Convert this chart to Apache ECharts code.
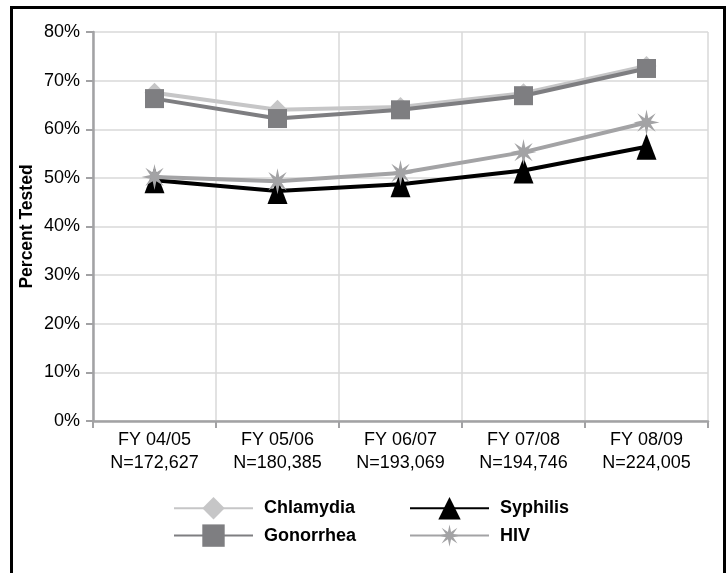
<!DOCTYPE html>
<html>
<head>
<meta charset="utf-8">
<script src="https://cdn.jsdelivr.net/npm/echarts@6/dist/echarts.min.js"></script>
<style>
  html, body { margin: 0; padding: 0; background: #fff; }
  #chart { width: 728px; height: 573px; }
</style>
</head>
<body>
<div id="chart"></div>
<script>
// Fiscal years and the number of people in each year
const years = ['FY 04/05', 'FY 05/06', 'FY 06/07', 'FY 07/08', 'FY 08/09'];
const counts = ['172,627', '180,385', '193,069', '194,746', '224,005'];

// Percent tested, by infection
const chlamydia = [67.5, 64.0, 64.6, 67.4, 73.0];
const gonorrhea = [66.3, 62.2, 64.0, 66.9, 72.5];
const syphilis  = [49.5, 47.3, 48.7, 51.5, 56.4];
const hiv       = [50.2, 49.3, 51.0, 55.3, 61.4];

const categories = years.map((y, i) => y + '\nN=' + counts[i]);

// eight-point burst used for the HIV markers
const starPath = 'path://M10 0 L11.4 6.7 L17.07 2.93 L13.3 8.6 L20 10 L13.3 11.4 L17.07 17.07 L11.4 13.3 L10 20 L8.6 13.3 L2.93 17.07 L6.7 11.4 L0 10 L6.7 8.6 L2.93 2.93 L8.6 6.7 Z';

const FONT = '"Liberation Sans", Arial, Helvetica, sans-serif';
const AXIS_GREY = '#a2a2a4';
const GRID_GREY = '#d9d9d9';

function lineSeries(name, data, color, symbol, size, z) {
  return {
    name: name,
    type: 'line',
    data: data,
    symbol: symbol,
    symbolSize: size,
    showAllSymbol: true,
    z: z,
    lineStyle: { color: color, width: 4 },
    itemStyle: { color: color, borderWidth: 0 },
    emphasis: { disabled: true },
    animation: false
  };
}

const legendText = { fontFamily: FONT, fontSize: 18, fontWeight: 'bold', color: '#000', padding: [0, 0, 0, 6] };

const chart = echarts.init(document.getElementById('chart'), null, { renderer: 'canvas' });

chart.setOption({
  backgroundColor: '#ffffff',
  animation: false,
  textStyle: { fontFamily: FONT },
  graphic: [{
    type: 'rect',
    shape: { x: 11.5, y: 7.5, width: 713, height: 600 },
    style: { fill: 'none', stroke: '#000', lineWidth: 3 },
    silent: true,
    z: 100
  }],
  grid: { left: 93, right: 20, top: 32, bottom: 152, containLabel: false },
  legend: [{
    data: ['Chlamydia', 'Gonorrhea'],
    orient: 'vertical',
    left: 168,
    top: 492,
    itemWidth: 79,
    itemHeight: 28,
    itemGap: 5,
    selectedMode: false,
    textStyle: legendText
  }, {
    data: ['Syphilis', 'HIV'],
    orient: 'vertical',
    left: 404,
    top: 492,
    itemWidth: 79,
    itemHeight: 28,
    itemGap: 5,
    selectedMode: false,
    textStyle: legendText
  }],
  xAxis: {
    type: 'category',
    data: categories,
    boundaryGap: true,
    axisLine: { show: true, lineStyle: { color: AXIS_GREY, width: 2.5 } },
    axisTick: { show: true, length: 7, lineStyle: { color: AXIS_GREY, width: 2 } },
    axisLabel: { margin: 8, color: '#000', fontFamily: FONT, fontSize: 18, lineHeight: 22.5 },
    splitLine: { show: true, lineStyle: { color: GRID_GREY, width: 1.5 } }
  },
  yAxis: {
    type: 'value',
    min: 0,
    max: 80,
    interval: 10,
    name: 'Percent Tested',
    nameLocation: 'middle',
    nameGap: 57,
    nameMoveOverlap: false,
    nameRotate: 90,
    nameTextStyle: { fontFamily: FONT, fontSize: 17.5, fontWeight: 'bold', color: '#000' },
    axisLine: { show: true, lineStyle: { color: AXIS_GREY, width: 2.5 } },
    axisTick: { show: true, length: 7, lineStyle: { color: AXIS_GREY, width: 2 } },
    axisLabel: { margin: 13, color: '#000', fontFamily: FONT, fontSize: 18, formatter: '{value}%' },
    splitLine: { show: true, lineStyle: { color: GRID_GREY, width: 1.5 } }
  },
  series: [
    lineSeries('Chlamydia', chlamydia, '#c6c6c7', 'diamond', 20, 2),
    lineSeries('Gonorrhea', gonorrhea, '#7e7e81', 'rect', 19, 3),
    lineSeries('Syphilis', syphilis, '#000000', 'triangle', [20, 26], 4),
    lineSeries('HIV', hiv, '#a3a3a5', starPath, 26, 5)
  ]
});
</script>
</body>
</html>
